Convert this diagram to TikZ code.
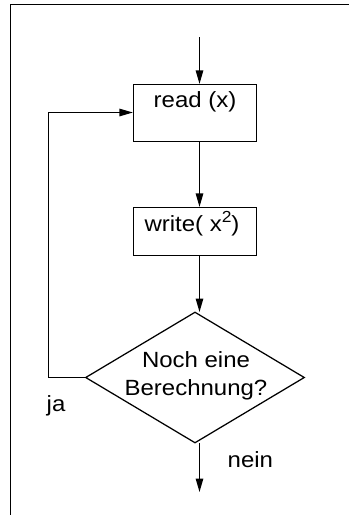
\documentclass[tikz,border=0pt]{standalone}
\usepackage{fontspec}
\setmainfont{Liberation Sans}[FakeStretch=1.09]
\usetikzlibrary{shapes.geometric,arrows.meta}

\tikzset{
  flow/.style={line width=1.25pt},
  arr/.style={flow, -{Triangle[length=13.5pt,width=7.5pt]}},
  procbox/.style={draw, flow, rectangle, inner sep=0pt, minimum width=123pt},
  decision/.style={draw, flow, diamond, inner sep=0pt, minimum width=219pt, minimum height=131pt},
  txt/.style={font=\fontsize{22}{27.3}\selectfont, inner sep=0pt},
  frameline/.style={line width=1.25pt}
}

\begin{document}
\begin{tikzpicture}[x=1pt, y=-1pt]
  \useasboundingbox (0,0) rectangle (349,515);

  % outer frame: top and left edges only
  \draw[frameline] (10.5,515) -- (10.5,4.5) -- (349,4.5);

  % process steps
  \node[procbox, minimum height=57pt,
        label={[txt, anchor=base, yshift=-23.8pt]north:read (x)}]
        (read) at (195,113) {};
  \node[procbox, minimum height=48pt,
        label={[txt, anchor=base, yshift=-24.8pt, xshift=-3pt]north:write( x\raisebox{9.5pt}{\fontsize{16}{16}\selectfont 2})}]
        (write) at (195,231.5) {};

  % decision
  \node[decision] (ask) at (195,377.5) {};
  \node[txt, align=center] (asktext) at (196,375.8) {Noch eine\\Berechnung?};

  % connector coordinates on the main axis
  \coordinate (start) at (199.5,37);
  \coordinate (stop) at (199.5,492);
  \coordinate (axis) at (199.5,0);
  \coordinate (asktop) at (199.5,312);
  \coordinate (askbot) at (199.5,443);
  \coordinate (loopbot) at (48.5,377.5);
  \coordinate (looptop) at (48.5,112.5);

  % main flow
  \draw[arr] (start) -- (axis |- read.north);
  \draw[arr] (axis |- read.south) -- (axis |- write.north);
  \draw[arr] (axis |- write.south) -- (asktop);
  \draw[arr] (askbot) -- (stop);

  % loop back for another calculation
  \draw[arr] (ask.west) -- (loopbot) -- (looptop) -- (looptop -| read.west);

  % branch labels
  \node[txt, anchor=base west] (ja) at (46.5,411) {ja};
  \node[txt, anchor=base west] (nein) at (227.5,467) {nein};
\end{tikzpicture}
\end{document}
